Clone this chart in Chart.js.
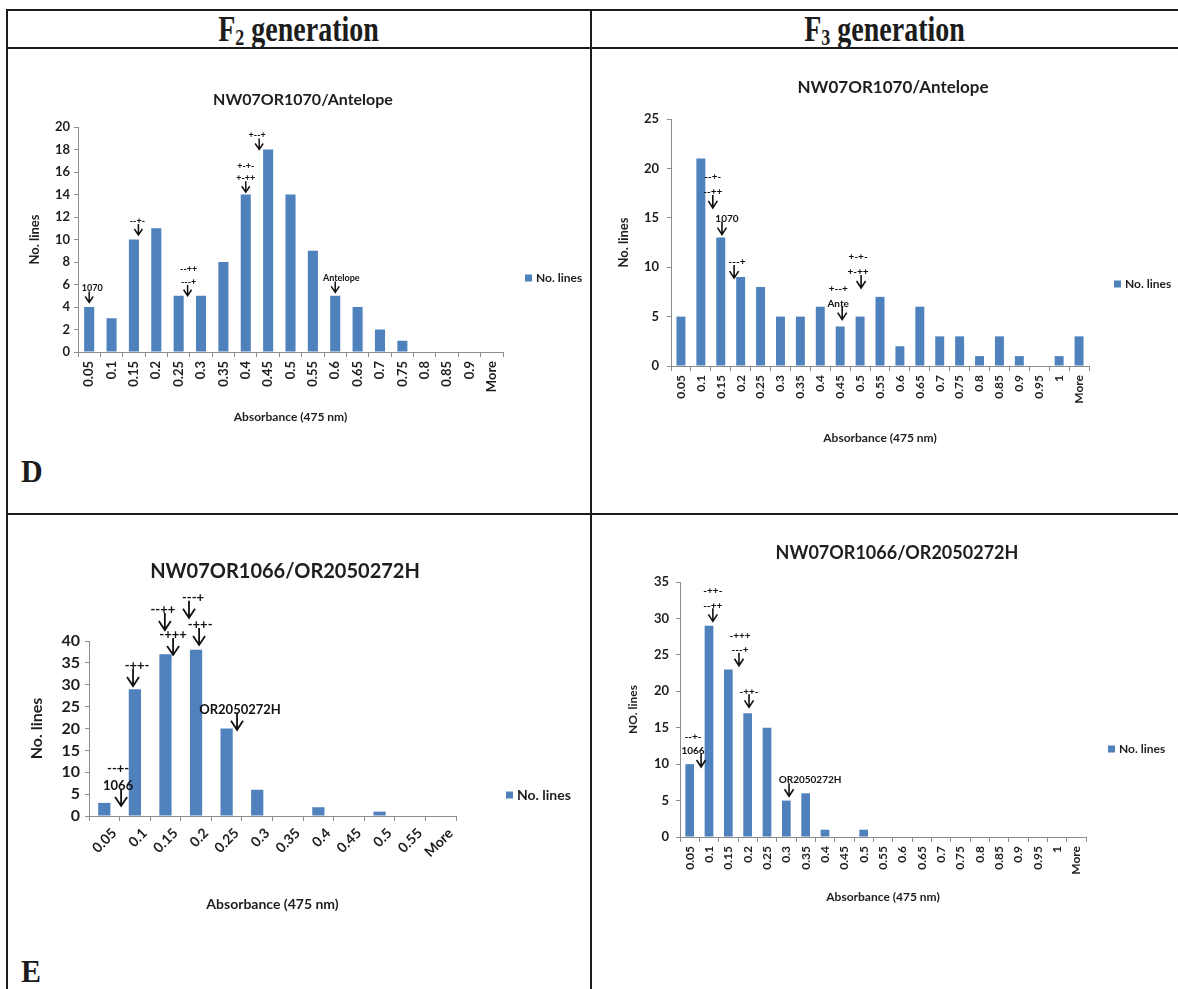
<!DOCTYPE html>
<html>
<head>
<meta charset="utf-8">
<script src="https://cdn.jsdelivr.net/npm/chart.js@4.4.1/dist/chart.umd.min.js"></script>
<style>
  html, body { margin: 0; padding: 0; background: #fff; }
  #page { position: relative; width: 1178px; height: 989px; overflow: hidden; }
  .ln { position: absolute; background: #1c1c1c; }
  .hd, .tag {
    position: absolute; font-family: "Liberation Serif", serif; font-weight: bold;
    color: #1c1c1c; white-space: nowrap;
  }
  .hd { text-align: center; height: 37px; line-height: 37px; font-size: 28px; transform: scaleY(1.28); }
  .hd sub { font-size: 18px; vertical-align: -3px; line-height: 0; }
  .tag { height: 30px; line-height: 30px; font-size: 30px; transform: scaleY(1.05); }
  canvas { position: absolute; }
</style>
</head>
<body>
<div id="page">
  <div class="ln" style="left:6px;top:9px;width:1172px;height:2px"></div>
  <div class="ln" style="left:6px;top:47px;width:1172px;height:2px"></div>
  <div class="ln" style="left:6px;top:513px;width:1172px;height:2px"></div>
  <div class="ln" style="left:6px;top:9px;width:2px;height:980px"></div>
  <div class="ln" style="left:590px;top:9px;width:2px;height:980px"></div>

  <div class="hd" style="left:6px;width:585px;top:10px">F<sub>2</sub> generation</div>
  <div class="hd" style="left:591px;width:587px;top:10px">F<sub>3</sub> generation</div>
  <div class="tag" style="left:21px;top:457px">D</div>
  <div class="tag" style="left:21px;top:957px">E</div>

  <canvas id="f2d" width="578" height="360" style="left:10px;top:85px"></canvas>
  <canvas id="f3d" width="583" height="390" style="left:595px;top:70px"></canvas>
  <canvas id="f2e" width="578" height="400" style="left:10px;top:540px"></canvas>
  <canvas id="f3e" width="583" height="400" style="left:595px;top:530px"></canvas>
</div>

<script>
// absorbance bins (475 nm)
const binsF2D = ['0.05','0.1','0.15','0.2','0.25','0.3','0.35','0.4','0.45','0.5','0.55','0.6','0.65','0.7','0.75','0.8','0.85','0.9','More'];
const binsF3 = ['0.05','0.1','0.15','0.2','0.25','0.3','0.35','0.4','0.45','0.5','0.55','0.6','0.65','0.7','0.75','0.8','0.85','0.9','0.95','1','More'];
const binsF2E = ['0.05','0.1','0.15','0.2','0.25','0.3','0.35','0.4','0.45','0.5','0.55','More'];

// number of lines per bin
const linesF2D = [4, 3, 10, 11, 5, 5, 8, 14, 18, 14, 9, 5, 4, 2, 1, 0, 0, 0, 0];
const linesF3D = [5, 21, 13, 9, 8, 5, 5, 6, 4, 5, 7, 2, 6, 3, 3, 1, 3, 1, 0, 1, 3];
const linesF2E = [3, 29, 37, 38, 20, 6, 0, 2, 0, 1, 0, 0];
const linesF3E = [10, 29, 23, 17, 15, 5, 6, 1, 0, 1, 0, 0, 0, 0, 0, 0, 0, 0, 0, 0, 0];

// genotype / parent markers: category position and value the arrow points at
const notesF2D = [
  { at: 0, tip: 4.4, text: ['1070'], dx: 3 },
  { at: 2.2, tip: 10.4, text: ['--+-'], dx: -1 },
  { at: 4.4, tip: 5.0, text: ['--++', '---+'], dx: 1 },
  { at: 7.0, tip: 14.2, text: ['+-+-', '+-++'], dx: 0 },
  { at: 7.6, tip: 18.0, text: ['+--+'], dx: -2 },
  { at: 11.0, tip: 5.3, text: ['Antelope'], dx: 6 }
];
const notesF3D = [
  { at: 1.6, tip: 16.0, text: ['--+-', '--++'], dx: 0 },
  { at: 2.06, tip: 13.3, text: ['1070'], dx: 5 },
  { at: 2.67, tip: 8.9, text: ['---+'], dx: 3 },
  { at: 8.1, tip: 4.7, text: ['+--+', 'Ante'], dx: -4 },
  { at: 9.05, tip: 7.9, text: ['+-+-', '+-++'], dx: -3 }
];
const notesF2E = [
  { at: 0.55, tip: 2.3, text: ['--+-', '1066'], dx: -3 },
  { at: 0.94, tip: 29.7, text: ['-++-'], dx: 4 },
  { at: 1.98, tip: 42.5, text: ['--++'], dx: -2 },
  { at: 2.25, tip: 36.8, text: ['-+++'], dx: 0 },
  { at: 2.77, tip: 45.3, text: ['---+'], dx: 4 },
  { at: 3.1, tip: 39.1, text: ['-++-'], dx: 1 },
  { at: 4.34, tip: 19.7, text: ['OR2050272H'], dx: 3 }
];
const notesF3E = [
  { at: 0.59, tip: 9.6, text: ['--+-', '1066'], dx: -8 },
  { at: 1.2, tip: 29.6, text: ['-++-', '--++'], dx: 0 },
  { at: 2.55, tip: 23.5, text: ['-+++', '---+'], dx: 1 },
  { at: 3.07, tip: 17.8, text: ['-++-'], dx: 0 },
  { at: 5.14, tip: 5.6, text: ['OR2050272H'], dx: 21 }
];

const barColor = '#4F81BD';
const axisColor = '#8c8c8c';
const ink = '#1e1e1e';
const face = 'Lato, "Open Sans", sans-serif';

// chart title + legend drawn at fixed spots like the Excel layout
const decor = {
  id: 'decor',
  afterDraw(chart, args, o) {
    const ctx = chart.ctx;
    ctx.save();
    ctx.fillStyle = ink;
    ctx.font = `bold ${o.titleSize}px ${face}`;
    ctx.textAlign = 'center';
    ctx.textBaseline = 'middle';
    ctx.fillText(o.title, o.titleX, o.titleY);
    ctx.fillStyle = barColor;
    ctx.fillRect(o.legX, o.legY - o.box / 2, o.box, o.box);
    ctx.fillStyle = ink;
    ctx.font = `bold ${o.legSize}px ${face}`;
    ctx.textAlign = 'left';
    ctx.fillText(chart.data.datasets[0].label, o.legX + o.box + 4, o.legY);
    ctx.restore();
  }
};

// down arrows with marker text above them
const arrows = {
  id: 'arrows',
  afterDatasetsDraw(chart, args, o) {
    const { ctx, scales: { x, y } } = chart;
    ctx.save();
    ctx.strokeStyle = '#111';
    ctx.fillStyle = '#111';
    ctx.lineWidth = o.lw;
    ctx.font = `bold ${o.size}px ${face}`;
    ctx.textAlign = 'center';
    ctx.textBaseline = 'middle';
    o.items.forEach((n) => {
      const px = x.getPixelForValue(n.at);
      const py = y.getPixelForValue(n.tip);
      ctx.beginPath();
      ctx.moveTo(px, py - o.len);
      ctx.lineTo(px, py);
      ctx.moveTo(px - o.hw, py - o.hh);
      ctx.lineTo(px, py);
      ctx.lineTo(px + o.hw, py - o.hh);
      ctx.stroke();
      const last = n.text.length - 1;
      n.text.forEach((t, i) => {
        ctx.fillText(t, px + n.dx, py - o.gap - (last - i) * o.step);
      });
    });
    ctx.restore();
  }
};

function histogram(id, o) {
  const canvas = document.getElementById(id);
  const W = canvas.width, H = canvas.height;
  return new Chart(canvas, {
    type: 'bar',
    data: {
      labels: o.labels,
      datasets: [{
        label: 'No. lines',
        data: o.values,
        backgroundColor: barColor,
        categoryPercentage: o.catPct,
        barPercentage: 1
      }]
    },
    options: {
      responsive: false,
      animation: false,
      events: [],
      layout: { padding: { top: o.plot.top, right: W - o.plot.right, left: 0, bottom: 0 } },
      plugins: {
        legend: { display: false },
        tooltip: { enabled: false },
        decor: o.decor,
        arrows: o.arrows
      },
      scales: {
        x: {
          grid: { offset: true, drawOnChartArea: false, color: axisColor, tickLength: 5 },
          border: { color: axisColor },
          ticks: {
            autoSkip: false, maxRotation: o.rot, minRotation: o.rot,
            labelOffset: o.labelOffset || 0, padding: 4,
            color: ink, font: { family: face, weight: 'bold', size: o.xTick }
          },
          title: {
            display: true, text: 'Absorbance (475 nm)', color: ink,
            font: { family: face, weight: 'bold', size: o.xTitle.size },
            padding: { top: 0, bottom: o.xTitle.pad }
          },
          afterFit: (s) => { s.height = H - o.plot.bottom; s.paddingLeft = 0; s.paddingRight = 0; }
        },
        y: {
          min: 0, max: o.yMax,
          grid: { drawOnChartArea: false, color: axisColor, tickLength: 4 },
          border: { color: axisColor },
          ticks: {
            stepSize: o.yStep, padding: o.yPad, autoSkip: false,
            color: ink, font: { family: face, weight: 'bold', size: o.yTick }
          },
          title: {
            display: true, text: o.yLabel, color: ink,
            font: { family: face, weight: 'bold', size: o.yTitle.size },
            padding: { top: o.yTitle.pad, bottom: 0 }
          },
          afterFit: (s) => { s.width = o.plot.left; }
        }
      }
    },
    plugins: [decor, arrows]
  });
}

histogram('f2d', {
  labels: binsF2D, values: linesF2D, catPct: 0.45,
  plot: { left: 68, right: 493, top: 42, bottom: 267 },
  yMax: 20, yStep: 2, yTick: 13, yPad: 4, xTick: 13, rot: 90,
  yLabel: 'No. lines', yTitle: { size: 13, pad: 17 }, xTitle: { size: 12, pad: 21 },
  decor: { title: 'NW07OR1070/Antelope', titleSize: 16, titleX: 293, titleY: 15,
           legX: 515, legY: 193, box: 7, legSize: 12 },
  arrows: { items: notesF2D, size: 9, len: 11, hw: 4, hh: 6, gap: 14, step: 12.5, lw: 1.5 }
});

histogram('f3d', {
  labels: binsF3, values: linesF3D, catPct: 0.45,
  plot: { left: 76, right: 494, top: 49, bottom: 296 },
  yMax: 25, yStep: 5, yTick: 13, yPad: 8, xTick: 12, rot: 90,
  yLabel: 'No. lines', yTitle: { size: 13, pad: 21 }, xTitle: { size: 12, pad: 15 },
  decor: { title: 'NW07OR1070/Antelope', titleSize: 17, titleX: 298, titleY: 18,
           legX: 519, legY: 214, box: 7, legSize: 12 },
  arrows: { items: notesF3D, size: 10, len: 13, hw: 4.5, hh: 7, gap: 16, step: 15, lw: 1.6 }
});

histogram('f2e', {
  labels: binsF2E, values: linesF2E, catPct: 0.4,
  plot: { left: 79, right: 446, top: 101, bottom: 276 },
  yMax: 40, yStep: 5, yTick: 16, yPad: 5, xTick: 14, rot: 45, labelOffset: 10,
  yLabel: 'No. lines', yTitle: { size: 16, pad: 17 }, xTitle: { size: 14, pad: 27 },
  decor: { title: 'NW07OR1066/OR2050272H', titleSize: 20, titleX: 275, titleY: 32,
           legX: 496, legY: 255, box: 7, legSize: 14 },
  arrows: { items: notesF2E, size: 13, len: 17, hw: 6, hh: 9, gap: 20, step: 17, lw: 1.8 }
});

histogram('f3e', {
  labels: binsF3, values: linesF3E, catPct: 0.45,
  plot: { left: 85, right: 491, top: 52, bottom: 307 },
  yMax: 35, yStep: 5, yTick: 13, yPad: 7, xTick: 12, rot: 90,
  yLabel: 'NO. lines', yTitle: { size: 12, pad: 31 }, xTitle: { size: 12, pad: 26 },
  decor: { title: 'NW07OR1066/OR2050272H', titleSize: 18, titleX: 302, titleY: 23,
           legX: 513, legY: 219, box: 7, legSize: 12 },
  arrows: { items: notesF3E, size: 10, len: 13, hw: 4.5, hh: 7, gap: 16, step: 14.5, lw: 1.6 }
});
</script>
</body>
</html>
